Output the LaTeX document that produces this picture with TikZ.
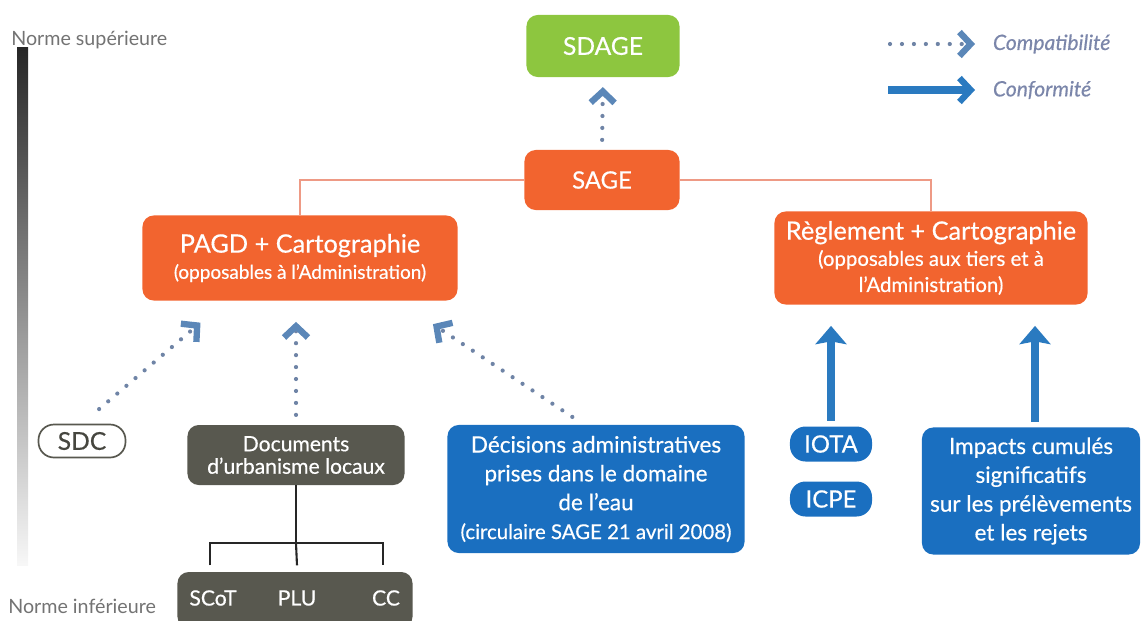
\documentclass[tikz,border=0pt]{standalone}
\usepackage{fontspec}
\setmainfont{Lato}
\newfontfamily\boxfont{Lato}[FakeBold=0.5, Ligatures=TeX]
\usetikzlibrary{positioning,calc,arrows.meta}
\definecolor{sdagegreen}{HTML}{8DC63F}
\definecolor{sageorange}{HTML}{F2642F}
\definecolor{linksalmon}{HTML}{EE9A85}
\definecolor{urbagray}{HTML}{58584F}
\definecolor{waterblue}{HTML}{1A6FC0}
\definecolor{arrowblue}{HTML}{2A7AC0}
\definecolor{dotgray}{HTML}{6F84A6}
\definecolor{chevblue}{HTML}{5B87B8}
\definecolor{legendtext}{HTML}{7B86AA}
\newcommand\fs[1]{\fontsize{#1}{1.2\dimexpr#1pt\relax}\selectfont}
\tikzset{
    box/.style={rounded corners=8pt, text=white, align=center, inner sep=2pt,
        font=\boxfont\fs{17}},
    greenbox/.style={box, fill=sdagegreen},
    orangebox/.style={box, fill=sageorange},
    graybox/.style={box, fill=urbagray},
    bluebox/.style={box, fill=waterblue, font=\boxfont\fontsize{16}{20.5}\selectfont},
    pill/.style={box, rounded corners=11pt, fill=waterblue},
    whitepill/.style={rounded corners=11pt, draw=urbagray, very thick, fill=white,
        text=urbagray!80!black, font=\boxfont\fs{17.5}},
    link/.style={linksalmon, line width=2pt},
    tree/.style={black!85, line width=1.5pt},
    compat/.style={dotgray, line width=3pt, line cap=round, dash pattern=on 0pt off 8.5pt,
        -{Straight Barb[length=8pt, width=17pt, line width=4.5pt, color=chevblue]}},
    conform/.style={arrowblue, line width=5.5pt,
        -{Triangle[length=13pt, width=22pt, inset=2pt]}},
    norme/.style={text=black!55, font=\fs{14}, inner sep=0pt}
}
\begin{document}
\begin{tikzpicture}[x=0.025cm, y=-0.025cm]
\useasboundingbox (0,0) rectangle (1144,620);

% echelle des normes
\shade[top color=black!85, middle color=black!50, bottom color=black!3] (17,47) rectangle (28,565);
\node[norme, anchor=west] (sup) at (11,40) {Norme supérieure};
\node[norme, anchor=west] (inf) at (8,606) {Norme inférieure};

% boites
\node[greenbox, minimum width=3.825cm, minimum height=1.55cm, font=\boxfont\fs{17.5}] (sdage) at (603,46) {SDAGE};
\node[orangebox, minimum width=3.875cm, minimum height=1.5cm] (sage) at (602,180) {SAGE};
\node[orangebox, minimum width=7.875cm, minimum height=2.125cm, font=\boxfont\fs{18}] (pagd) at (300,258)
    {PAGD + Cartographie\\[-3pt]{\fs{13.5}(opposables à l’Administration)}};
\node[orangebox, minimum width=7.825cm, minimum height=2.325cm, font=\boxfont\fs{18}] (regl) at (931,258)
    {Règlement + Cartographie\\[-3pt]{\fs{14.5}(opposables aux tiers et à}\\[-3pt]{\fs{14.5}l’Administration)}};
\node[whitepill, minimum width=2.175cm, minimum height=0.825cm] (sdc) at (82,441) {SDC};
\node[graybox, minimum width=5.425cm, minimum height=1.5cm, font=\boxfont\fs{15}] (docs) at (296,455)
    {Documents\\[-2pt]d’urbanisme locaux};
\node[graybox, minimum width=5.875cm, minimum height=1.4cm] (plans) at (295,600) {};
\node[text=white, font=\boxfont\fs{15}] (scot) at (213,598) {SCoT};
\node[text=white, font=\boxfont\fs{15}] (plu) at (297,598) {PLU};
\node[text=white, font=\boxfont\fs{15}] (cc) at (386,598) {CC};
\node[bluebox, minimum width=7.425cm, minimum height=3.2cm] (dec) at (596,489)
    {Décisions administratives\\prises dans le domaine\\de l’eau\\{\fs{14.5}(circulaire SAGE 21 avril 2008)}};
\node[pill, minimum width=2.05cm, minimum height=0.875cm, font=\boxfont\fs{17}] (iota) at (831,444) {IOTA};
\node[pill, minimum width=2.05cm, minimum height=0.875cm, font=\boxfont\fs{17}] (icpe) at (831,499) {ICPE};
\node[bluebox, minimum width=5.45cm, minimum height=3.175cm] (imp) at (1031,491)
    {Impacts cumulés\\significatifs\\sur les prélèvements\\et les rejets};

% liaisons du SAGE
\draw[link] (sage.west) -| (pagd.north);
\draw[link] (sage.east) -| (regl.north);

% arbre des documents d'urbanisme
\coordinate (fork) at ($(docs.south)+(0,58)$);
\draw[tree] (docs.south) -- (fork);
\draw[tree] ($(scot.north)+(-3,-20)$) |- (fork) -| ($(cc.north)+(-3,-20)$);
\draw[tree] (fork) -- ($(plu.north)+(0,-20)$);

% compatibilite
\draw[compat, shorten <=7pt, shorten >=7pt] (sage.north) -- (sdage.south);
\draw[compat, shorten <=16pt, shorten >=24pt] (sdc.north) -- ($(pagd.south west)+(84,0)$);
\draw[compat, shorten <=7pt, shorten >=15pt] (docs.north) -- (docs.north |- pagd.south);
\draw[compat, shorten <=10pt, shorten >=30pt] ($(dec.north)+(-12,0)$) -- ($(pagd.south east)+(-60,0)$);

% conformite
\draw[conform, shorten <=4pt, shorten >=15pt] (iota.north) -- (iota.north |- regl.south);
\draw[conform, shorten <=4pt, shorten >=15pt] ($(imp.north)+(4,0)$) -- ($(imp.north |- regl.south)+(4,0)$);

% legende
\coordinate (cpa) at (890,44);
\coordinate (cpb) at (975,44);
\coordinate (cfa) at (888,90);
\coordinate (cfb) at (975,90);
\node[anchor=west, text=legendtext, font=\boxfont\itshape\fs{15}] (cptext) at (988,44) {Compatibilité};
\node[anchor=west, text=legendtext, font=\boxfont\itshape\fs{15}] (cftext) at (988,90) {Conformité};
\draw[compat] (cpa) -- (cpb);
\draw[arrowblue, line width=5pt, -{Straight Barb[length=8pt, width=17pt, line width=4.5pt]}] (cfa) -- (cfb);
\end{tikzpicture}
\end{document}
